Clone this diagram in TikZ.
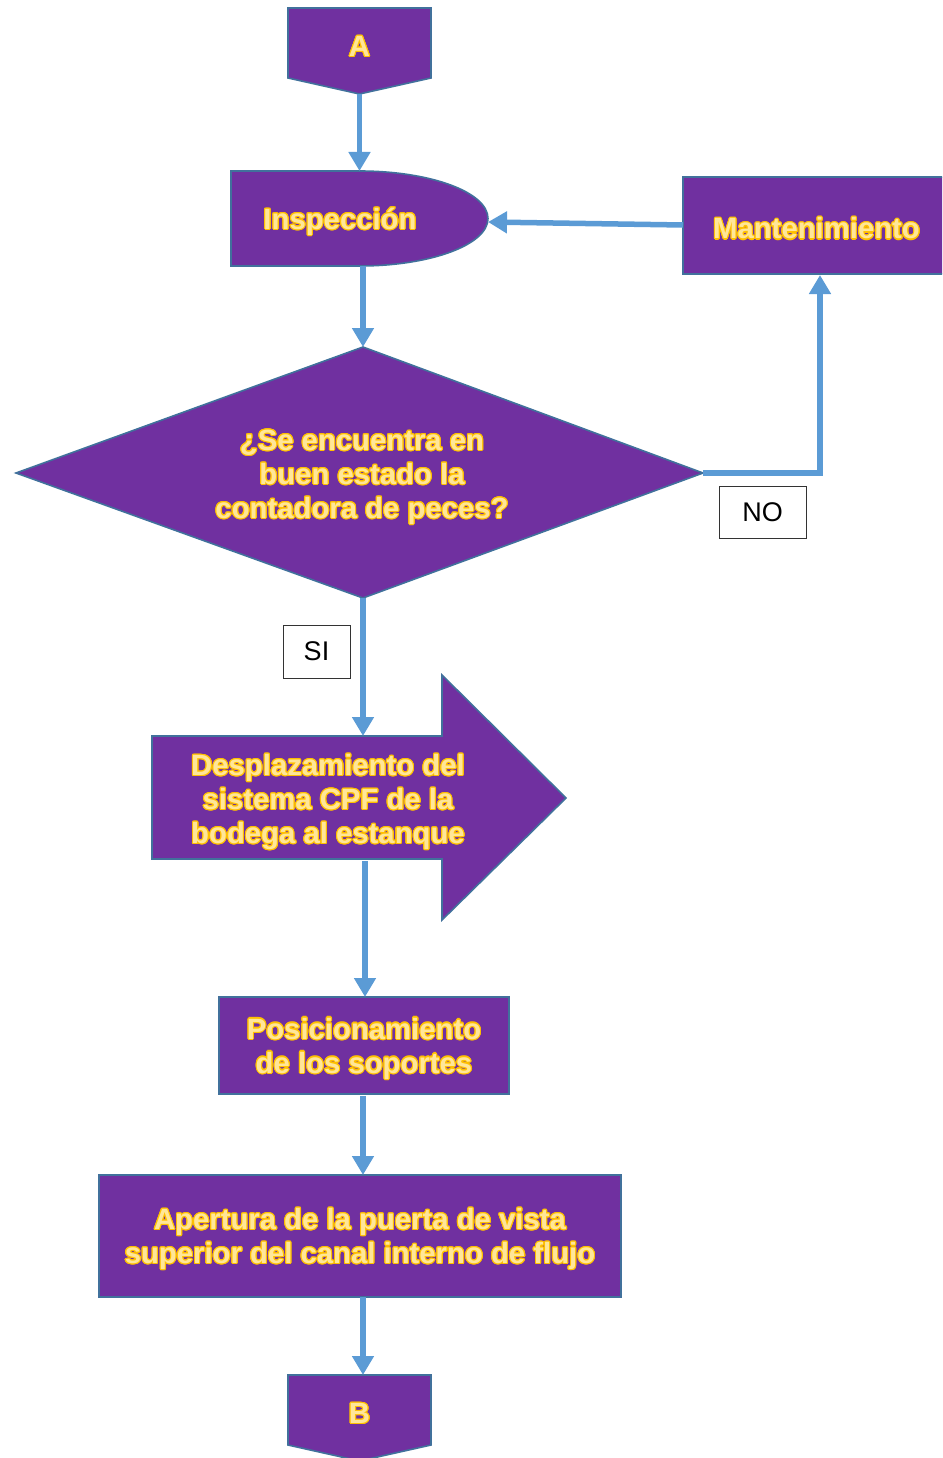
\documentclass[tikz,border=0pt]{standalone}
\usepackage{fontspec}
\setmainfont{Liberation Sans}
\usepackage{contour}
\contourlength{1.1pt}
\usetikzlibrary{arrows.meta}
\definecolor{shapefill}{HTML}{7030A0}
\definecolor{shapeedge}{HTML}{41719C}
\definecolor{flow}{HTML}{5B9BD5}
\definecolor{gold}{HTML}{FFC000}
\definecolor{goldlt}{HTML}{FFE699}
% outlined gold lettering, one line at a time
\newcommand{\yt}[1]{{\color{goldlt}\contour{gold}{#1}}}
\tikzset{
  shp/.style={fill=shapefill, draw=shapeedge, line width=1.6pt, line join=miter},
  boxnode/.style={shp, rectangle, inner sep=0pt, outer sep=0pt, align=center},
  lbl/.style={align=center, inner sep=0pt, font=\bfseries\fontsize{29.3}{34}\selectfont},
  tag/.style={draw=black!80, line width=0.9pt, fill=white, inner sep=0pt,
              font=\fontsize{27}{32}\selectfont},
  flowarrow/.style={draw=flow, line width=5.5pt,
                    -{Triangle[width=21pt,length=19pt]}},
}
\begin{document}
\begin{tikzpicture}[x=1pt, y=-1pt]
\useasboundingbox (0,0) rectangle (942,1458);
\begin{scope}
\clip (0,0) rectangle (942,1458);

% ---- connector A (off-page) ----
\path[shp] (288,8) -- (431,8) -- (431,78) -- (359.5,94) -- (288,78) -- cycle;
\node[lbl] (A) at (359.5,47) {\yt{A}};
\coordinate (Atip) at (359.5,94);

% ---- Inspección (delay shape) ----
\path[shp] (231,171) -- (359.5,171)
   arc[start angle=90, end angle=-90, x radius=128.5pt, y radius=47.5pt]
   -- (231,266) -- cycle;
\node[lbl] (insp) at (340,222) {\yt{Inspección}};
\coordinate (insptop) at (359.5,171);
\coordinate (inspright) at (488,222);
\coordinate (inspbot) at (363,266);

% ---- Mantenimiento ----
\path[shp] (683,177) rectangle (950,274);
\node[lbl] (mant) at (816.5,229) {\yt{Mantenimiento}};
\coordinate (mantleft) at (683,225);
\coordinate (mantbot) at (820,275);

% ---- decision ----
\path[shp] (16,473) -- (363,347) -- (703,473) -- (363,598) -- cycle;
\coordinate (dtop) at (363,347);
\coordinate (dright) at (703,473);
\coordinate (dbot) at (363,598);
\node[lbl] (q) at (362,477.5)
  {\yt{¿Se encuentra en}\\ \yt{buen estado la}\\ \yt{contadora de peces?}};

% ---- block arrow ----
\path[shp] (152,736) -- (442,736) -- (442,675) -- (566,798) -- (442,920)
   -- (442,859) -- (152,859) -- cycle;
\node[lbl] (desp) at (328,802.5)
  {\yt{Desplazamiento del}\\ \yt{sistema CPF de la}\\ \yt{bodega al estanque}};
\coordinate (desptop) at (363,736);
\coordinate (despbot) at (365,861);

% ---- Posicionamiento ----
\node[boxnode, minimum width=290pt, minimum height=97pt] (pos) at (364,1045.5) {};
\node[lbl] (post) at (364,1049) {\yt{Posicionamiento}\\ \yt{de los soportes}};
\coordinate (posbot) at (363,1096);

% ---- Apertura ----
\node[boxnode, minimum width=522pt, minimum height=122pt] (aper) at (360,1236) {};
\node[lbl] (apert) at (360,1239.5)
  {\yt{Apertura de la puerta de vista}\\ \yt{superior del canal interno de flujo}};

% ---- connector B (off-page) ----
\path[shp] (288,1375) -- (431,1375) -- (431,1445) -- (359.5,1461) -- (288,1445) -- cycle;
\node[lbl] (B) at (359.5,1414) {\yt{B}};
\coordinate (Btop) at (363,1375);

% ---- connectors ----
\draw[flowarrow] (Atip) -- (insptop);
\draw[flowarrow] (inspbot) -- (dtop);
\draw[flowarrow] (mantleft) -- (inspright);
\draw[flowarrow] (dright) -| (mantbot);
\draw[flowarrow] (dbot) -- (desptop);
\draw[flowarrow] (despbot) -- (despbot |- pos.north);
\draw[flowarrow] (posbot) -- (posbot |- aper.north);
\draw[flowarrow] (aper.south -| Btop) -- (Btop);

% ---- branch labels ----
\node[tag, minimum width=87pt, minimum height=52pt] (no) at (762.5,512) {NO};
\node[tag, minimum width=67pt, minimum height=53pt] (si) at (316.5,651.5) {SI};
\end{scope}
\end{tikzpicture}
\end{document}
